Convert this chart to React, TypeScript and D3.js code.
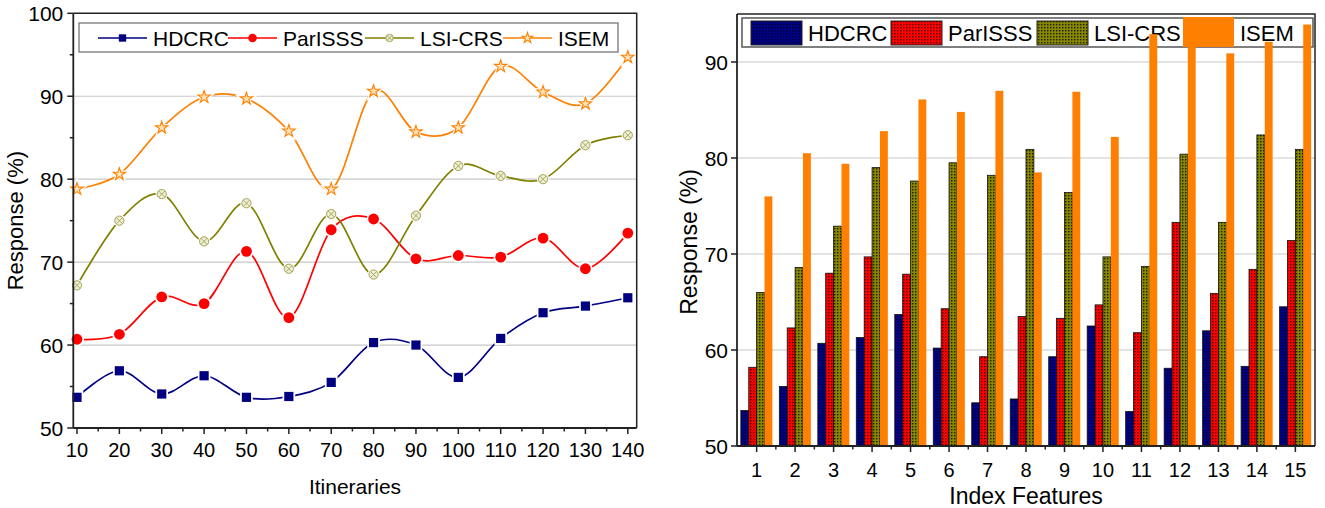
import { scaleLinear, scaleBand, line, curveCardinal, symbol, symbolStar } from "d3";

// data
const itineraries = [10, 20, 30, 40, 50, 60, 70, 80, 90, 100, 110, 120, 130, 140];
const hdcrcLine = [53.7, 56.9, 54.1, 56.3, 53.7, 53.8, 55.5, 60.3, 60.0, 56.1, 60.8, 63.9, 64.7, 65.7];
const parisssLine = [60.7, 61.3, 65.8, 65.0, 71.3, 63.3, 73.9, 75.2, 70.4, 70.8, 70.6, 72.9, 69.2, 73.5];
const lsiLine = [67.2, 75.0, 78.2, 72.5, 77.1, 69.2, 75.8, 68.5, 75.6, 81.6, 80.4, 80.0, 84.1, 85.3];
const isemLine = [78.8, 80.6, 86.2, 89.9, 89.7, 85.8, 78.8, 90.6, 85.7, 86.2, 93.6, 90.5, 89.1, 94.7];

const features = [1, 2, 3, 4, 5, 6, 7, 8, 9, 10, 11, 12, 13, 14, 15];
const hdcrcBar = [53.7, 56.2, 60.7, 61.3, 63.7, 60.2, 54.5, 54.9, 59.3, 62.5, 53.6, 58.1, 62.0, 58.3, 64.5];
const parisssBar = [58.2, 62.3, 68.0, 69.7, 67.9, 64.3, 59.3, 63.5, 63.3, 64.7, 61.8, 73.3, 65.9, 68.4, 71.4];
const lsiBar = [66.0, 68.6, 72.9, 79.0, 77.6, 79.5, 78.2, 80.9, 76.4, 69.7, 68.7, 80.4, 73.3, 82.4, 80.9];
const isemBar = [76.0, 80.5, 79.4, 82.8, 86.1, 84.8, 87.0, 78.5, 86.9, 82.2, 92.9, 92.3, 90.9, 92.1, 93.9];

const seriesNames = ["HDCRC", "ParISSS", "LSI-CRS", "ISEM"];
const leftYTicks = [50, 60, 70, 80, 90, 100];
const leftYMinor = [55, 65, 75, 85, 95];
const leftXMinor = [15, 25, 35, 45, 55, 65, 75, 85, 95, 105, 115, 125, 135];
const rightYTicks = [50, 60, 70, 80, 90];

const font = "'Liberation Sans', Arial, sans-serif";
const lineColors = ["#000080", "#ff0000", "#808000", "#ff8000"];
const barFills = ["url(#patNavy)", "url(#patRed)", "url(#patOlive)", "#ff8000"];

// layout
const L = { left: 73.3, right: 636.7, top: 13.3, bottom: 428 };
const R = { left: 737, right: 1315, top: 14, bottom: 446 };

const starPath = symbol().type(symbolStar).size(48)() as string;
const starSmall = symbol().type(symbolStar).size(34)() as string;

function Marker({ kind, x, y, small }: { kind: number; x: number; y: number; small?: boolean }) {
  const s = small ? 0.8 : 1;
  if (kind === 0) {
    const h = 4.6 * s;
    return (
      <rect x={x - h} y={y - h} width={2 * h} height={2 * h} fill="#000080"
        stroke="#fff" strokeWidth={small ? 0 : 3.5} style={{ paintOrder: "stroke" }} />
    );
  }
  if (kind === 1) {
    return (
      <circle cx={x} cy={y} r={5.4 * s} fill="#ff0000" stroke="#fff"
        strokeWidth={small ? 0 : 3.5} style={{ paintOrder: "stroke" }} />
    );
  }
  if (kind === 2) {
    const r = 4.6 * s;
    const d = r * 0.7;
    return (
      <g>
        {!small && <circle cx={x} cy={y} r={r + 1.5} fill="#fff" />}
        <circle cx={x} cy={y} r={r} fill="#eeeed4" stroke="#a4a458" strokeWidth={1} />
        <path d={`M${x - d},${y - d}L${x + d},${y + d}M${x - d},${y + d}L${x + d},${y - d}`}
          stroke="#a4a458" strokeWidth={0.9} />
      </g>
    );
  }
  return (
    <g transform={`translate(${x},${y})`}>
      {!small && <path d={starPath} fill="#fff" stroke="#fff" strokeWidth={3.5} />}
      <path d={small ? starSmall : starPath} fill="#ffe2b8" stroke="#ff8000" strokeWidth={1.1} />
    </g>
  );
}

function LineChart() {
  const x = scaleLinear().domain([9.13, 142.1]).range([L.left, L.right]);
  const y = scaleLinear().domain([50, 100]).range([L.bottom, L.top]);
  const series = [hdcrcLine, parisssLine, lsiLine, isemLine];
  const gen = line<number>()
    .x((_, i) => x(itineraries[i]))
    .y((d) => y(d))
    .curve(curveCardinal.tension(0));
  const legendX = [98, 228, 365, 503];

  return (
    <g fontFamily={font}>
      {leftYTicks.slice(1, 5).map((t) => (
        <line key={t} x1={L.left} x2={L.right} y1={y(t)} y2={y(t)} stroke="#c8c8c8" strokeWidth={1.2} />
      ))}
      {series.map((s, k) => (
        <path key={k} d={gen(s) as string} fill="none" stroke={lineColors[k]} strokeWidth={1.7} />
      ))}
      {series.map((s, k) =>
        s.map((v, i) => <Marker key={`${k}-${i}`} kind={k} x={x(itineraries[i])} y={y(v)} />)
      )}
      {/* frame */}
      <path d={`M${L.left},${L.top}H${L.right}V${L.bottom}`} fill="none" stroke="#222" strokeWidth={1.5} />
      <line x1={L.left} x2={L.left} y1={L.top} y2={L.bottom} stroke="#222" strokeWidth={1.8} />
      <line x1={L.left} x2={L.right} y1={L.bottom} y2={L.bottom} stroke="#222" strokeWidth={1.8} />
      {/* y ticks */}
      {leftYTicks.map((t) => (
        <g key={t}>
          <line x1={L.left - 6} x2={L.left} y1={y(t)} y2={y(t)} stroke="#222" strokeWidth={1.5} />
          <text x={L.left - 10} y={y(t)} dy="0.36em" textAnchor="end" fontSize={21}>{t}</text>
        </g>
      ))}
      {leftYMinor.map((t) => (
        <line key={t} x1={L.left - 3.5} x2={L.left} y1={y(t)} y2={y(t)} stroke="#222" strokeWidth={1.5} />
      ))}
      {/* x ticks */}
      {itineraries.map((t) => (
        <g key={t}>
          <line x1={x(t)} x2={x(t)} y1={L.bottom} y2={L.bottom + 6} stroke="#222" strokeWidth={1.5} />
          <text x={x(t)} y={L.bottom + 29} textAnchor="middle" fontSize={20}>{t}</text>
        </g>
      ))}
      {leftXMinor.map((t) => (
        <line key={t} x1={x(t)} x2={x(t)} y1={L.bottom} y2={L.bottom + 3.5} stroke="#222" strokeWidth={1.5} />
      ))}
      <text x={(L.left + L.right) / 2} y={494} textAnchor="middle" fontSize={21}>Itineraries</text>
      <text transform={`translate(23,${(L.top + L.bottom) / 2}) rotate(-90)`} textAnchor="middle" fontSize={22}>
        Response (%)
      </text>
      {/* legend */}
      <rect x={79} y={23} width={539} height={29} fill="#fff" stroke="#777" strokeWidth={1.3} />
      {seriesNames.map((n, k) => (
        <g key={n}>
          <line x1={legendX[k]} x2={legendX[k] + 49} y1={38} y2={38} stroke={lineColors[k]} strokeWidth={1.7} />
          <Marker kind={k} x={legendX[k] + 24.5} y={38} small />
          <text x={legendX[k] + 55} y={45.5} fontSize={21}>{n}</text>
        </g>
      ))}
    </g>
  );
}

function BarChart() {
  const x0 = scaleBand<number>().domain(features).range([R.left, R.right]).paddingInner(0.18).paddingOuter(0.1);
  const x1 = scaleBand<number>().domain([0, 1, 2, 3]).range([0, x0.bandwidth()]);
  const y = scaleLinear().domain([50, 95]).range([R.bottom, R.top]);
  const series = [hdcrcBar, parisssBar, lsiBar, isemBar];
  const legendX = [751, 891, 1037, 1183];
  const step = x0.step();

  return (
    <g fontFamily={font}>
      {rightYTicks.slice(1).map((t) => (
        <line key={t} x1={R.left} x2={R.right} y1={y(t)} y2={y(t)} stroke="#c8c8c8" strokeWidth={1.2} />
      ))}
      {/* legend (bars are painted over it) */}
      <rect x={742} y={18} width={571} height={29} fill="#fff" stroke="#555" strokeWidth={1.5} />
      {seriesNames.map((n, k) => (
        <g key={n}>
          <rect x={legendX[k]} y={k === 3 ? 17 : 21} width={51} height={k === 3 ? 30 : 24}
            fill={barFills[k]} stroke={k === 3 ? "none" : "#222"} strokeWidth={1} />
          <text x={legendX[k] + 57} y={41} fontSize={22}>{n}</text>
        </g>
      ))}
      {features.map((f, i) => (
        <g key={f}>
          {series.map((s, k) => (
            <rect key={k} x={(x0(f) as number) + (x1(k) as number)} y={y(s[i])}
              width={x1.bandwidth()} height={R.bottom - y(s[i])}
              fill={barFills[k]} stroke={k === 3 ? "none" : "#111"} strokeWidth={0.8} />
          ))}
        </g>
      ))}
      {/* frame */}
      <path d={`M${R.left},${R.top}H${R.right}V${R.bottom}`} fill="none" stroke="#222" strokeWidth={1.5} />
      <line x1={R.left} x2={R.left} y1={R.top} y2={R.bottom} stroke="#222" strokeWidth={1.8} />
      <line x1={R.left} x2={R.right} y1={R.bottom} y2={R.bottom} stroke="#222" strokeWidth={1.8} />
      {rightYTicks.map((t) => (
        <g key={t}>
          <line x1={R.left - 6} x2={R.left} y1={y(t)} y2={y(t)} stroke="#222" strokeWidth={1.5} />
          <text x={R.left - 9} y={y(t)} dy="0.36em" textAnchor="end" fontSize={21}>{t}</text>
        </g>
      ))}
      {features.map((f) => {
        const cx = (x0(f) as number) + x0.bandwidth() / 2;
        const mx = cx + step / 2;
        return (
          <g key={f}>
            <line x1={cx} x2={cx} y1={R.bottom} y2={R.bottom + 6} stroke="#222" strokeWidth={1.5} />
            {f < features.length && (
              <line x1={mx} x2={mx} y1={R.bottom} y2={R.bottom + 3.5} stroke="#222" strokeWidth={1.5} />
            )}
            <text x={cx} y={R.bottom + 31} textAnchor="middle" fontSize={20}>{f}</text>
          </g>
        );
      })}
      <text x={(R.left + R.right) / 2} y={504} textAnchor="middle" fontSize={23}>Index Features</text>
      <text transform={`translate(697,${(R.top + R.bottom) / 2 + 12}) rotate(-90)`} textAnchor="middle" fontSize={23}>
        Response (%)
      </text>
    </g>
  );
}

export default function App() {
  return (
    <svg width={1325} height={508} viewBox="0 0 1325 508"
      style={{ position: "absolute", left: 0, top: 0, background: "#fff" }}>
      <defs>
        <pattern id="patNavy" width={3} height={3} patternUnits="userSpaceOnUse">
          <rect width={3} height={3} fill="#000088" />
          <rect width={1.5} height={1.5} fill="#000030" />
        </pattern>
        <pattern id="patRed" width={3} height={3} patternUnits="userSpaceOnUse">
          <rect width={3} height={3} fill="#ff0000" />
          <rect width={1.4} height={1.4} fill="#500000" />
        </pattern>
        <pattern id="patOlive" width={3} height={3} patternUnits="userSpaceOnUse">
          <rect width={3} height={3} fill="#888800" />
          <rect width={1.4} height={1.4} fill="#1c1c00" />
        </pattern>
      </defs>
      <LineChart />
      <BarChart />
    </svg>
  );
}
